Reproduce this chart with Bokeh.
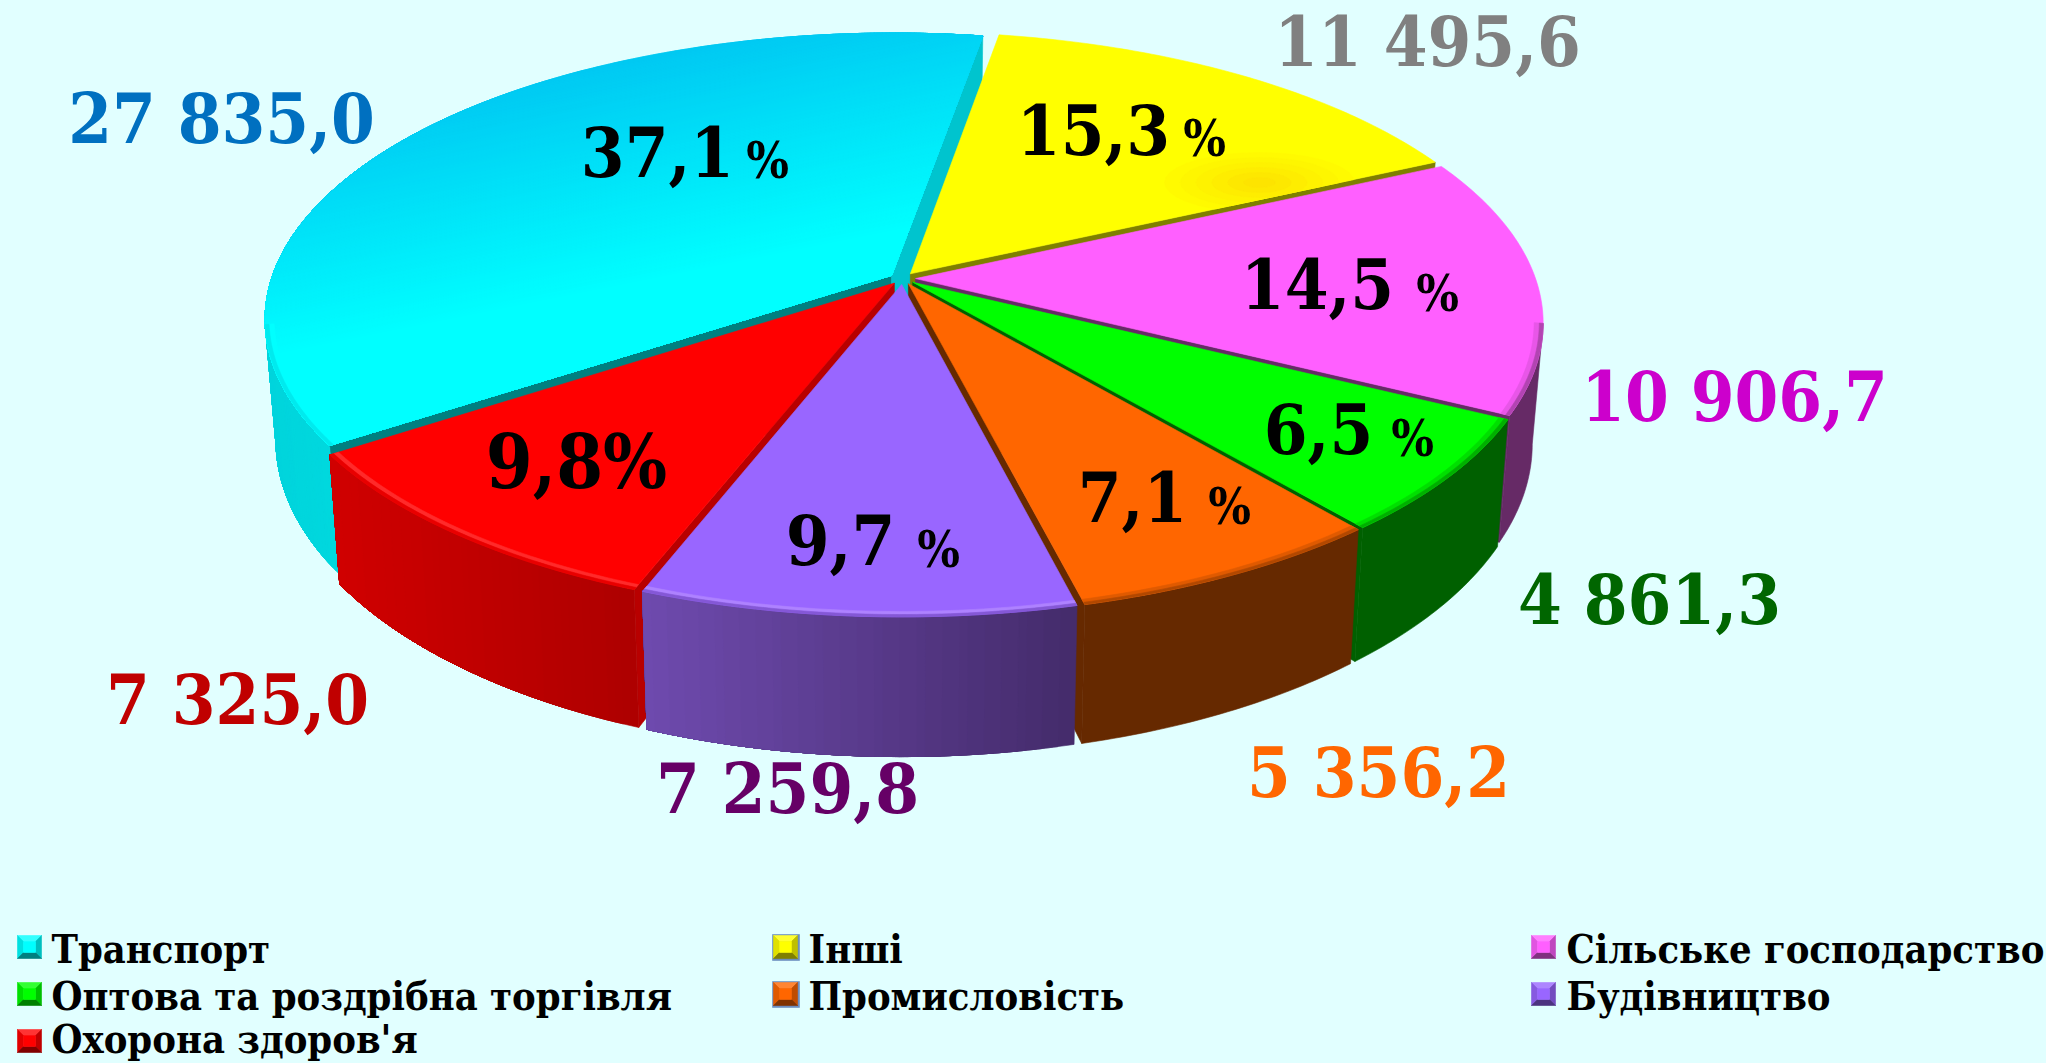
import math
from bokeh.plotting import figure
from bokeh.embed import file_html
from bokeh.resources import INLINE
from bokeh.core.properties import value as bv

# ---------- data ----------
categories = ["Транспорт", "Інші", "Сільське господарство", "Оптова та роздрібна торгівля",
              "Промисловість", "Будівництво", "Охорона здоров'я"]
values = [27835.0, 11495.6, 10906.7, 4861.3, 5356.2, 7259.8, 7325.0]
value_labels = ["27 835,0", "11 495,6", "10 906,7", "4 861,3", "5 356,2", "7 259,8", "7 325,0"]
share_labels = ["37,1", "15,3", "14,5", "6,5", "7,1", "9,7"]
last_share_label = "9,8%"

# ---------- styles ----------
BG = "#E1FFFF"
FONT = "DejaVu Serif Condensed"
top_col = ["#00FFFF", "#FFFF00", "#FF5FFF", "#00FF00", "#FF6600", "#9966FF", "#FF0000"]
wall_a = ["#00D8DE", "#7F7F00", "#662A66", "#006000", "#662900", "#452C6C", "#AE0000"]
wall_b = ["#00D4DC", "#7F7F00", "#662A66", "#006000", "#662900", "#6E4AAE", "#D00000"]
face_start = ["#008080", "#7F7F00", "#662A66", "#006000", "#662900", "#452C6C", "#B80000"]
face_end = ["#00C4CE", "#7F7F00", "#662A66", "#006000", "#662900", "#452C6C", "#B80000"]
bevel = ["#00FFFF", "#FFFF00", "#E856E8", "#00E000", "#E05A00", "#AE82FF", "#FF2A2A"]
value_col = ["#0070C0", "#808080", "#CC00CC", "#006600", "#FF6600", "#660066", "#C00000"]
swatch_border = [None, "#6C8EBF", None, None, "#6C8EBF", None, None]
draw_order = [0, 1, 2, 3, 6, 4, 5]

# layout (page pixels)
CX, CY, A, B, K = 902.0, 278.0, 620.0, 280.0, 0.152
EXPL, DEPTH, SHRINK = 0.021, 118.0, 0.983
START_YELLOW = 9.6
WALL_BANDS = 30
value_pos = [(221, 142), (1427, 65), (1734, 420), (1649, 623), (1378, 796), (787, 812), (237, 723)]
share_pos = [(657, 175), (1093, 153), (1317, 307), (1318, 452), (1132, 520), (840, 563)]
last_share_pos = (576, 488)
pct_pos = [(767, 177), (1204, 155), (1437, 310), (1412, 455), (1229, 523), (938, 566)]
BIG, SMALL, LAST, LEG = 70, 50, 75, 39.5
BASE_FIX, LEG_FIX = 0.35, 0.30
leg_rows = [960, 1007, 1050]
leg_cols = [(17, 51), (773, 808), (1531, 1566)]
leg_swatch_tops = [935, 982, 1029]


def hex2rgb(h):
    return tuple(int(h[i:i + 2], 16) for i in (1, 3, 5))


def mix(c1, c2, t):
    a, b = hex2rgb(c1), hex2rgb(c2)
    return "#%02X%02X%02X" % tuple(round(a[i] + (b[i] - a[i]) * t) for i in range(3))


def proj(X, Y):
    w = 1 - K * Y
    return CX + A * X / w, CY + B * Y / w


def proj_low(X, Y):
    sx, sy = proj(X, Y)
    return CX + (sx - CX) * SHRINK, sy + DEPTH / (1 - K * Y)


def disc(theta, r, off):
    t = math.radians(theta)
    return r * math.sin(t) + off[0], -r * math.cos(t) + off[1]


def clip(poly, a, b, c):
    out = []
    n = len(poly)
    for i in range(n):
        p, q = poly[i], poly[(i + 1) % n]
        fp, fq = a * p[0] + b * p[1] + c, a * q[0] + b * q[1] + c
        if fp >= 0:
            out.append(p)
        if (fp >= 0) != (fq >= 0):
            u = fp / (fp - fq)
            out.append((p[0] + (q[0] - p[0]) * u, p[1] + (q[1] - p[1]) * u))
    return out


polys, cols = [], []


def add(poly, col):
    if len(poly) >= 3:
        polys.append(poly)
        cols.append(col)


total = sum(values)
sweeps = [v / total * 360 for v in values]
start0 = START_YELLOW - sweeps[0]
starts = [start0 + sum(sweeps[:i]) for i in range(len(values))]

for i in draw_order:
    th0, sw = starts[i], sweeps[i]
    th1 = th0 + sw
    mid = th0 + sw / 2
    off = (EXPL * math.sin(math.radians(mid)), -EXPL * math.cos(math.radians(mid)))
    apex = off
    cam = (0.0, 1 / K)
    steps = max(10, int(sw * 1.5))
    thetas = [th0 + sw * j / steps for j in range(steps + 1)]
    vis = [th for th in thetas if disc(th, 1.0, off)[1] >= K]

    # radial cut faces
    for th, sign, col in ((th0, -1, face_start[i]), (th1, 1, face_end[i])):
        t = math.radians(th)
        n = (sign * math.cos(t), sign * math.sin(t))
        if (cam[0] - apex[0]) * n[0] + (cam[1] - apex[1]) * n[1] > 0:
            o = disc(th, 1.0, off)
            add([proj(*apex), proj(*o), proj_low(*o), proj_low(*apex)], col)

    # outer wall: painted from one end, each band covering the rest, so no seams
    if vis:
        xs = [proj(*disc(th, 1.0, off))[0] for th in vis]
        x0, x1 = max(xs), min(xs)
        bands = 1 if wall_a[i] == wall_b[i] else WALL_BANDS
        for b in range(bands):
            part = [th for th, x in zip(vis, xs) if (x0 - x) / (x0 - x1 + 1e-6) >= b / bands - 1e-9]
            if len(part) < 2:
                continue
            col = mix(wall_a[i], wall_b[i], b / max(bands - 1, 1))
            up = [proj(*disc(th, 1.0, off)) for th in part]
            low = [proj_low(*disc(th, 1.0, off)) for th in part]
            add(up + low[::-1], col)

    # top surface
    top = [proj(*apex)] + [proj(*disc(th, 1.0, off)) for th in thetas]
    if i == 0:
        gmax, gtop = 230, "#00C8F2"
        add(top, gtop)
        for g in range(3, gmax + 1, 3):
            add(clip(top, 0.2, 1.0, -0.2 * CX - g), mix(gtop, top_col[i], g / gmax))
    else:
        add(top, top_col[i])
    if i == 1:
        e = proj(*disc(th1, 1.0, off))
        ax, ay = proj(*apex)
        na, nb = -(e[1] - ay), (e[0] - ax)
        if na * (1000 - ax) + nb * (150 - ay) < 0:
            na, nb = -na, -nb
        nc = -(na * ax + nb * ay)
        for s in range(6):
            f = 1 - s / 6
            ell = [(1259 + 95 * f * math.cos(q * math.pi / 18), 182 + 30 * f * math.sin(q * math.pi / 18))
                   for q in range(36)]
            add(clip(ell, na, nb, nc), mix("#FFFF00", "#FDE400", (s + 1) / 6))

    # rim bevel, only where the wall shows
    if len(vis) >= 2:
        for r0, r1, col in ((0.986, 0.994, bevel[i]),
                            (0.994, 1.0, mix(top_col[i], wall_b[i], 0.5))):
            add([proj(*disc(th, r0, off)) for th in vis] + [proj(*disc(th, r1, off)) for th in vis[::-1]], col)

# legend swatches
SW, SH, BV = 24, 23, 6
for n in range(len(categories)):
    col_x, _ = leg_cols[n % 3]
    base = leg_swatch_tops[n // 3]
    c = top_col[n]
    x0, x1, y0, y1 = col_x, col_x + SW, base, base + SH
    if swatch_border[n]:
        add([(x0 - 1, y0 - 1), (x1 + 2, y0 - 1), (x1 + 2, y1 + 2), (x0 - 1, y1 + 2)], swatch_border[n])
    add([(x0, y0), (x1, y0), (x1 - BV, y0 + BV), (x0 + BV, y0 + BV)], mix(c, "#FFFFFF", 0.2))
    add([(x0, y0), (x0 + BV, y0 + BV), (x0 + BV, y1 - BV), (x0, y1)], mix(c, "#000000", 0.12))
    add([(x1, y0), (x1 - BV, y0 + BV), (x1 - BV, y1 - BV), (x1, y1)], mix(c, "#000000", 0.25))
    add([(x0, y1), (x0 + BV, y1 - BV), (x1 - BV, y1 - BV), (x1, y1)], mix(c, "#000000", 0.5))
    add([(x0 + BV, y0 + BV), (x1 - BV, y0 + BV), (x1 - BV, y1 - BV), (x0 + BV, y1 - BV)], c)

p = figure(width=2046, height=1063, x_range=(0, 2046), y_range=(1063, 0),
           output_backend="svg", toolbar_location=None, min_border=0,
           background_fill_color=BG, border_fill_color=BG, outline_line_color=None)
p.axis.visible = False
p.grid.visible = False

p.patches([[q[0] for q in poly] for poly in polys], [[q[1] for q in poly] for poly in polys],
          fill_color=cols, line_color=cols, line_width=0.6)


def label(xs, ys, texts, size, colors="#000000", align="center", fix=BASE_FIX):
    p.text(xs, [y - fix * size for y in ys], text=texts, text_color=colors, text_font=bv(FONT),
           text_font_style="bold", text_font_size=f"{size}px", text_align=align, text_baseline="alphabetic")


label([q[0] for q in value_pos], [q[1] for q in value_pos], value_labels, BIG, value_col)
label([q[0] for q in share_pos], [q[1] for q in share_pos], share_labels, BIG)
label([last_share_pos[0]], [last_share_pos[1]], [last_share_label], LAST)
label([q[0] for q in pct_pos], [q[1] for q in pct_pos], ["%"] * len(pct_pos), SMALL)
label([leg_cols[n % 3][1] for n in range(len(categories))],
      [leg_rows[n // 3] for n in range(len(categories))], categories, LEG, align="left", fix=LEG_FIX)

html = file_html(p, INLINE)
html = html.replace("</head>", f"<style>html,body{{background:{BG};margin:0!important;overflow:hidden}}</style></head>", 1)
open("out.html", "w").write(html)
